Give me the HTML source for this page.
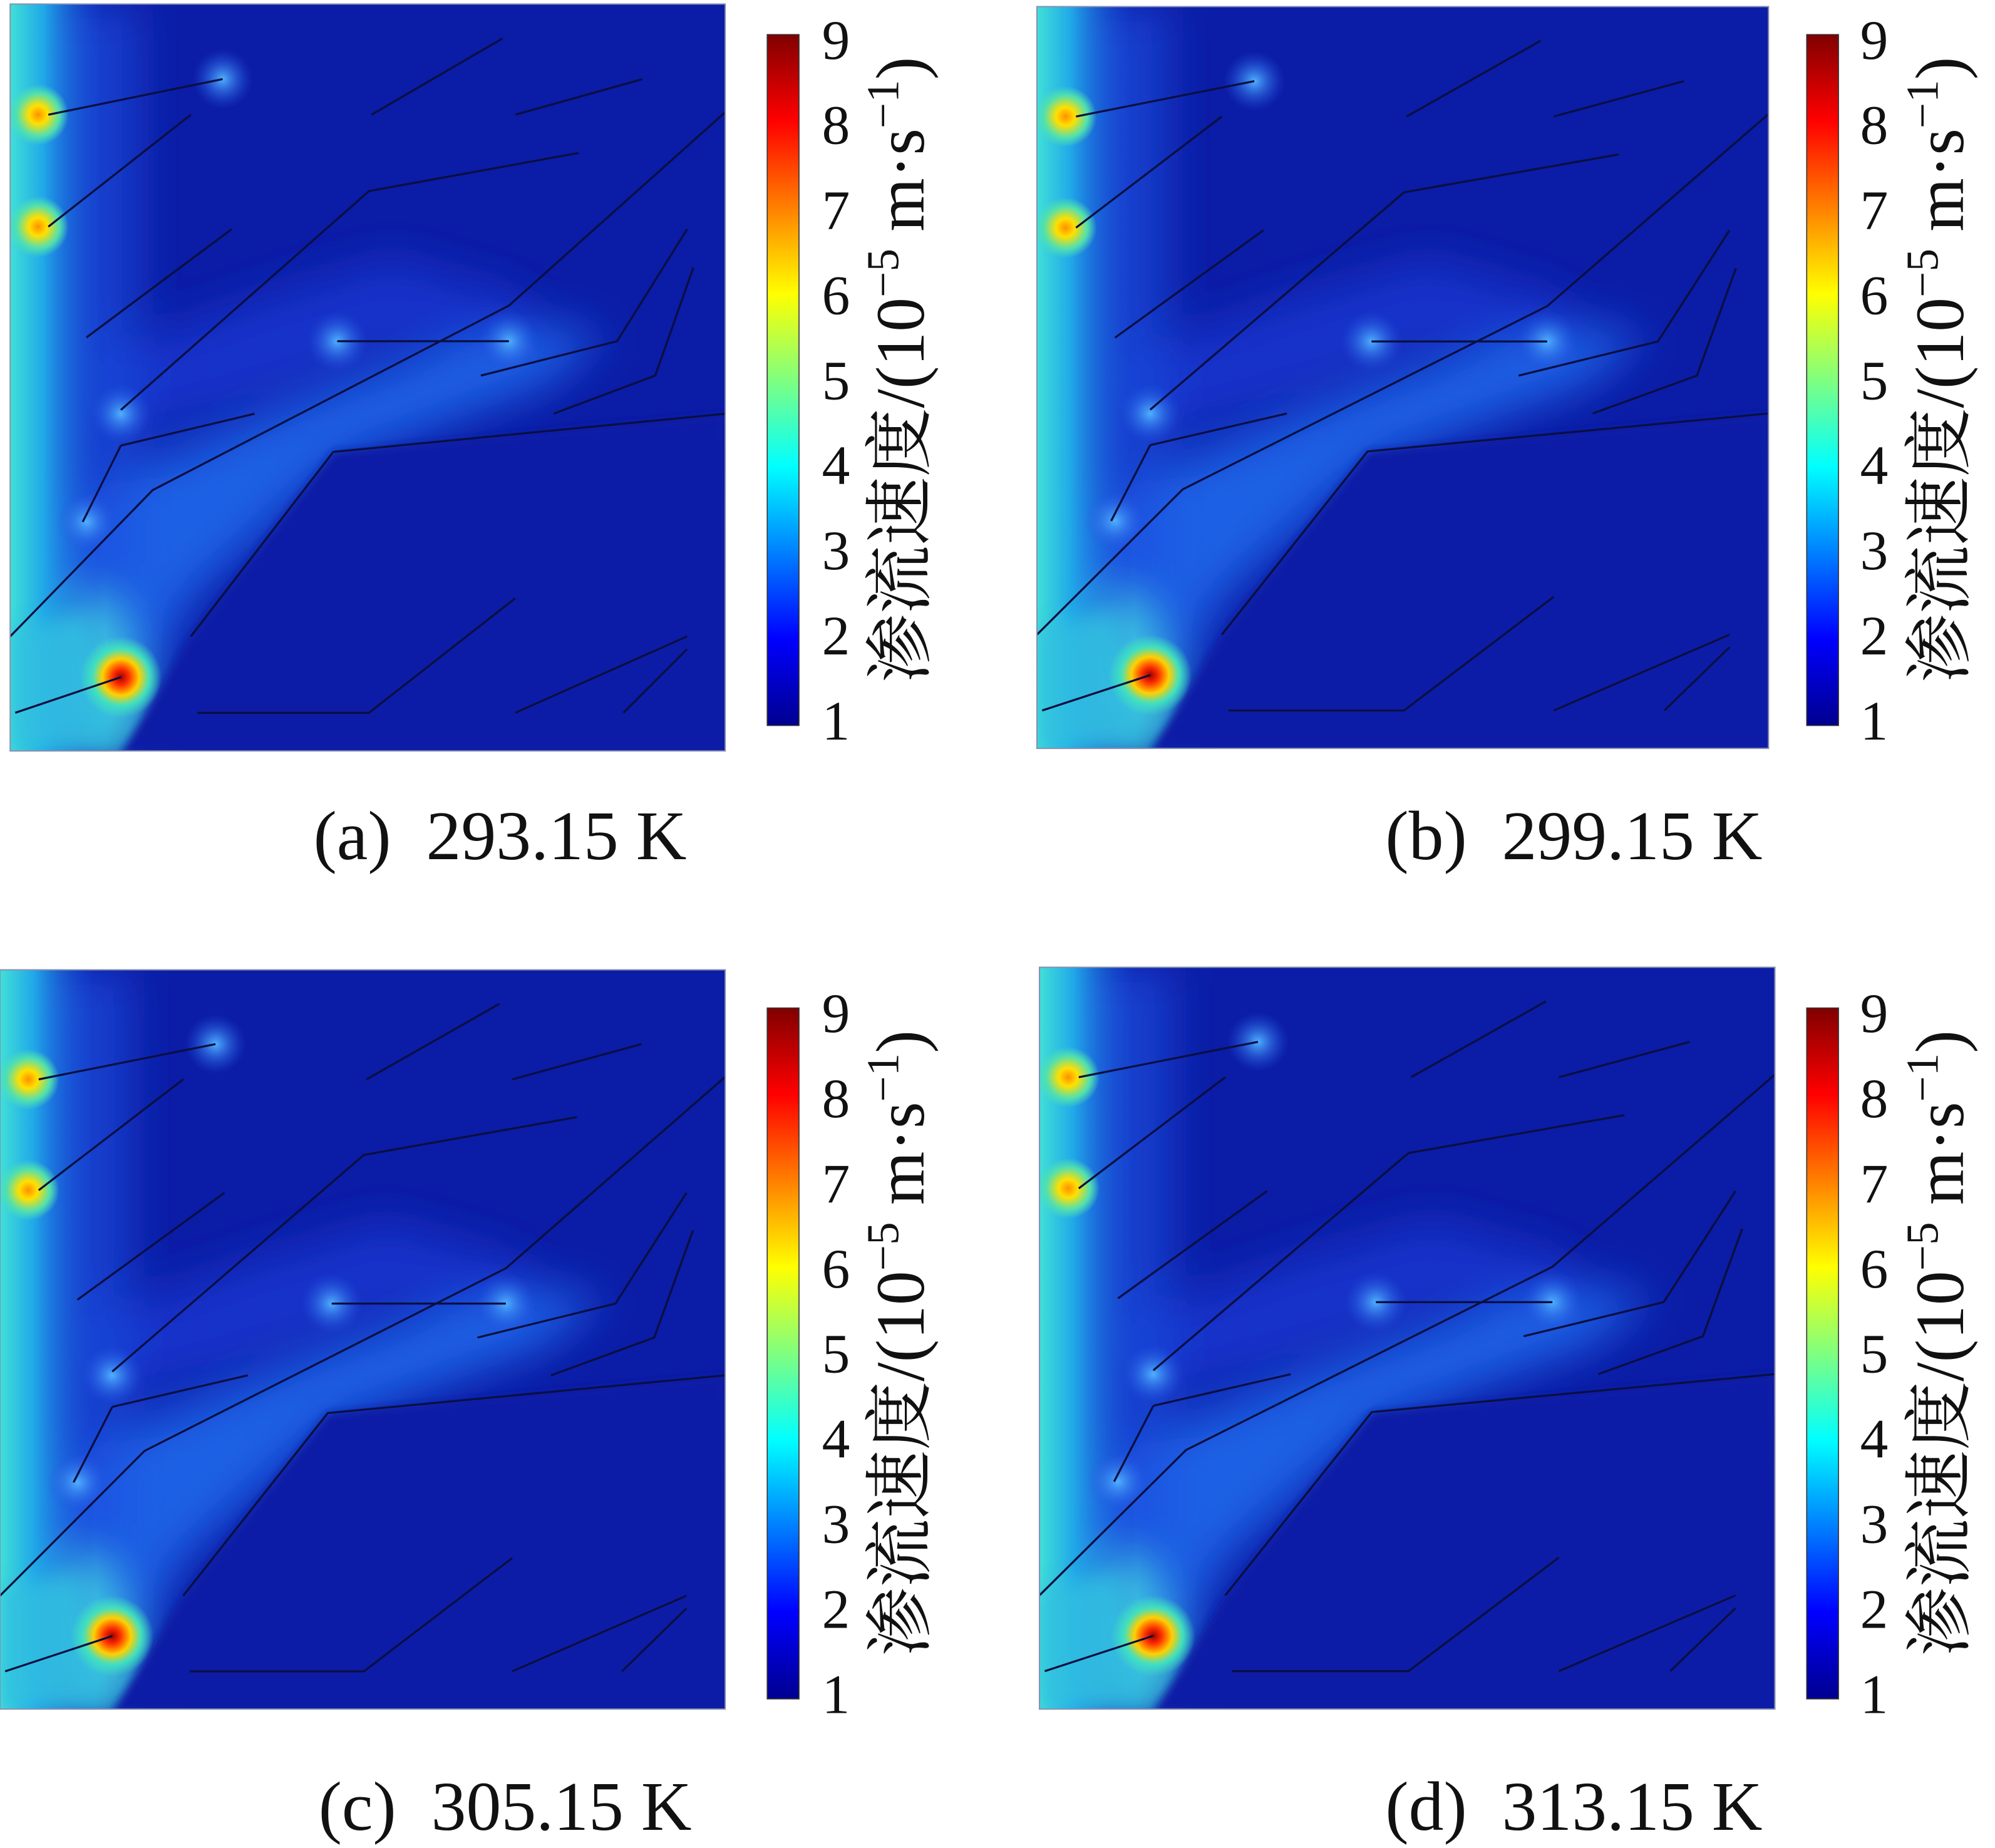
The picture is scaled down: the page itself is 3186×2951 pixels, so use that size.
<!DOCTYPE html>
<html><head><meta charset="utf-8">
<style>
html,body{margin:0;padding:0;background:#fff;}
svg{display:block;}
text{font-family:"Liberation Serif","Noto Serif CJK SC","Noto Sans CJK SC",serif;fill:#111;}
</style></head>
<body>
<svg id="fig" width="3186" height="2951" viewBox="0 0 1568 1452" xmlns="http://www.w3.org/2000/svg">
<defs>
<linearGradient id="jet" x1="0" y1="1" x2="0" y2="0">
<stop offset="0" stop-color="#00008f"/>
<stop offset="0.125" stop-color="#0000ff"/>
<stop offset="0.375" stop-color="#00ffff"/>
<stop offset="0.625" stop-color="#ffff00"/>
<stop offset="0.875" stop-color="#ff0000"/>
<stop offset="1" stop-color="#800000"/>
</linearGradient>
<linearGradient id="leftStrip" x1="0" y1="0" x2="1" y2="0">
<stop offset="0" stop-color="#40e0d8"/>
<stop offset="0.35" stop-color="#20a8e8"/>
<stop offset="1" stop-color="#1a4ad8" stop-opacity="0"/>
</linearGradient>
<radialGradient id="hotRed"><stop offset="0" stop-color="#a00000"/><stop offset="0.2" stop-color="#ff3000"/><stop offset="0.45" stop-color="#ffd000"/><stop offset="0.7" stop-color="#40e0c0"/><stop offset="1" stop-color="#40e0c0" stop-opacity="0"/></radialGradient>
<radialGradient id="hotYel"><stop offset="0" stop-color="#ff9000"/><stop offset="0.3" stop-color="#ffe000"/><stop offset="0.7" stop-color="#50e0b0"/><stop offset="1" stop-color="#50e0b0" stop-opacity="0"/></radialGradient>
<radialGradient id="glow"><stop offset="0" stop-color="#4fb0ff"/><stop offset="1" stop-color="#2050e0" stop-opacity="0"/></radialGradient>
<filter id="blur" x="-20%" y="-20%" width="140%" height="140%"><feGaussianBlur stdDeviation="18"/></filter>
<filter id="blur2" x="-20%" y="-20%" width="140%" height="140%"><feGaussianBlur stdDeviation="8"/></filter>
<filter id="blur3" x="-20%" y="-20%" width="140%" height="140%"><feGaussianBlur stdDeviation="3"/></filter>
</defs>
</svg>
<script>
const ticks = [1,2,3,4,5,6,7,8,9];
const captions = ["(a)  293.15 K","(b)  299.15 K","(c)  305.15 K","(d)  313.15 K"];
const cbMin = 1, cbMax = 9;
const NS="http://www.w3.org/2000/svg";
const svg=document.getElementById('fig');
function mk(tag,attrs,parent){const e=document.createElementNS(NS,tag);for(const k in attrs)e.setAttribute(k,attrs[k]);(parent||svg).appendChild(e);return e;}
const panels=[
 {x:8,y:3,w:562,h:587,cbx:603,cby:27,cbh:543,lx:657,tx:726,capx:393,capy:657},
 {x:815,y:5,w:575,h:583,cbx:1420,cby:27,cbh:543,lx:1473,tx:1543,capx:1237,capy:657},
 {x:0,y:762,w:570,h:581,cbx:603,cby:792,cbh:543,lx:657,tx:726,capx:397,capy:1420},
 {x:817,y:760,w:578,h:583,cbx:1420,cby:792,cbh:543,lx:1473,tx:1543,capx:1237,capy:1420}
];
const fractures=[
 [[30,87],[167,59]],[[30,175],[142,87]],[[60,262],[174,177]],
 [[87,319],[282,147],[447,117]],[[284,87],[387,27]],[[397,87],[497,59]],
 [[257,265],[392,265]],[[87,347],[192,322]],[[57,407],[87,347]],
 [[0,497],[112,382],[392,237],[562,85]],[[370,292],[477,265],[532,177]],
 [[427,322],[507,292],[537,207]],[[142,497],[254,352],[562,322]],
 [[4,557],[87,529]],[[147,557],[282,557],[397,467]],[[397,557],[532,497]],[[482,557],[532,507]]
];
panels.forEach((p,i)=>{
 const g=mk('g',{transform:`translate(${p.x},${p.y})`});
 
 
 const sx=p.w/562, sy=p.h/587;
 const inner=mk('g',{transform:`scale(${sx},${sy})`},g);
 const cp=mk('clipPath',{id:'clip'+i},inner);
 mk('rect',{width:562,height:587},cp);
 const c=mk('g',{'clip-path':`url(#clip${i})`},inner);
 const bg=mk('rect',{width:562,height:587,fill:'#0b1ca6'},c);
 
 const f=mk('g',{filter:'url(#blur)'},c);
 mk('polygon',{points:'0,420 110,360 260,300 400,250 470,260 420,300 260,360 140,470 90,587 0,587',fill:'#1d6cf0',opacity:0.85},f);
 mk('polygon',{points:'60,280 200,230 300,200 400,230 420,260 300,270 160,320 80,340',fill:'#1a3ad8',opacity:0.7},f);
 mk('rect',{x:0,y:0,width:100,height:587,fill:'#1a50e0',opacity:0.7},f);
 mk('polygon',{points:'0,470 80,470 120,587 0,587',fill:'#3fc8e0'},f);
 const ls=mk('rect',{x:0,y:0,width:75,height:587,fill:'url(#leftStrip)'},c);
 
 mk('polygon',{points:'0,490 60,480 87,587 0,587',fill:'#30c0e0',opacity:0.8,filter:'url(#blur2)'},c);
 mk('polygon',{points:'87,590 142,497 254,352 562,322 570,590',fill:'#0b1ca6',filter:'url(#blur3)'},c);
 [[392,265],[257,265],[60,407],[87,322],[167,59]].forEach(q=>mk('circle',{cx:q[0],cy:q[1],r:24,fill:'url(#glow)'},c));
 [[22,87],[22,175]].forEach(q=>{const h=mk('circle',{cx:q[0],cy:q[1],r:24,fill:'url(#hotYel)'},c);});
 const hr=mk('circle',{cx:87,cy:529,r:32,fill:'url(#hotRed)'},c);
 
 fractures.forEach(fr=>{const l=mk('polyline',{points:fr.map(q=>q.join(',')).join(' '),fill:'none',stroke:'#0a0f40','stroke-width':1.6},c);
  });
 mk('rect',{width:562,height:587,fill:'none',stroke:'#8890b0','stroke-width':1},inner);
 const cb=mk('rect',{x:p.cbx,y:p.cby,width:25,height:p.cbh,fill:'url(#jet)',stroke:'#333','stroke-width':0.8});
 
 const yS=v=>p.cby+p.cbh-(v-cbMin)/(cbMax-cbMin)*(p.cbh-8)-4;
 ticks.forEach(v=>{const t=mk('text',{x:p.lx,y:yS(v)+15,'font-size':44,'text-anchor':'middle'});t.textContent=v;
  });
 const tt=mk('text',{x:0,y:0,'font-size':54,'text-anchor':'middle',transform:`translate(${p.tx},${p.cby+p.cbh/2-8}) rotate(-90)`});
 
 tt.innerHTML='渗流速度/(10<tspan dy="-20" font-size="36">−5</tspan><tspan dy="20"> m·s</tspan><tspan dy="-20" font-size="36">−1</tspan><tspan dy="20">)</tspan>';
 const cap=mk('text',{x:p.capx,y:p.capy+18,'font-size':55,'text-anchor':'middle'});cap.textContent=captions[i];
 cap.setAttribute('style','white-space:pre');
 
});
</script>
</body></html>
